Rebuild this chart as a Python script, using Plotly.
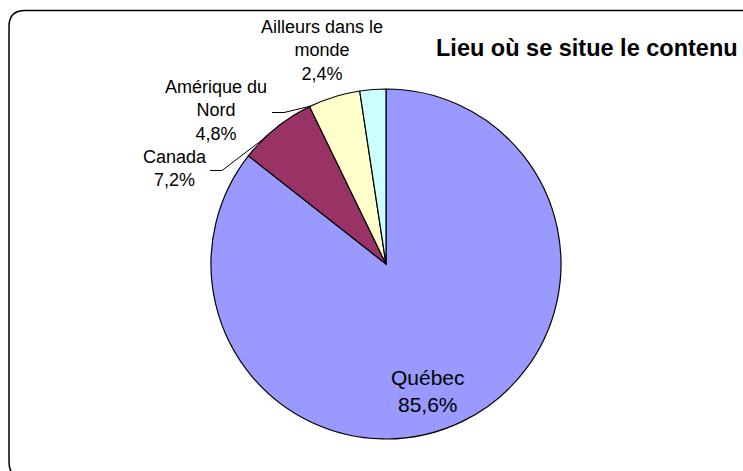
import math
import plotly.graph_objects as go

labels = ["Québec", "Canada", "Amérique du<br>Nord", "Ailleurs dans le<br>monde"]
values = [85.6, 7.2, 4.8, 2.4]
pct_text = ["85,6%", "7,2%", "4,8%", "2,4%"]
colors = ["#9999FF", "#993366", "#FFFFCC", "#CCFFFF"]
title_text = "Lieu où se situe le contenu"

W, H = 743, 471
cx, cy, R = 386, 264, 175  # pie centre / radius in window pixels
FONT = "Arial, Liberation Sans, sans-serif"

def px(x):
    return x / W

def py(y):
    return 1 - y / H

fig = go.Figure(go.Pie(
    labels=labels,
    values=values,
    sort=False,
    direction="clockwise",
    rotation=0,
    marker=dict(colors=colors, line=dict(color="black", width=1.2)),
    textinfo="none",
    domain=dict(x=[px(cx - R), px(cx + R)], y=[py(cy + R), py(cy - R)]),
    showlegend=False,
    hoverinfo="label+percent",
))

total = sum(values)
starts, cum = [], 0
for v in values:
    starts.append(cum / total * 360)
    cum += v

def arc_point(i, frac, rr=R):
    ang = math.radians(starts[i] + frac * values[i] / total * 360)
    return cx + rr * math.sin(ang), cy - rr * math.cos(ang)

# label block centres (window pixels)
label_pos = {0: (428, 391), 1: (175, 169), 2: (216, 111), 3: (322, 51)}
sizes = {0: 21, 1: 18, 2: 18, 3: 18}
annotations = []
for i, (lx, ly) in label_pos.items():
    annotations.append(dict(
        x=px(lx), y=py(ly), xref="paper", yref="paper",
        xanchor="center", yanchor="middle",
        text=labels[i] + "<br>" + pct_text[i],
        showarrow=False,
        font=dict(family=FONT, size=sizes[i], color="black"),
        align="center",
    ))

annotations.append(dict(
    x=px(740), y=py(48), xref="paper", yref="paper",
    xanchor="right", yanchor="middle",
    text="<b>" + title_text + "</b>", showarrow=False,
    font=dict(family=FONT, size=23.5, color="black"),
))

fig.update_layout(
    width=W, height=H,
    margin=dict(l=0, r=0, t=0, b=0),
    paper_bgcolor="white",
    plot_bgcolor="white",
    annotations=annotations,
)

def seg(x0, y0, x1, y1):
    fig.add_shape(type="line", xref="paper", yref="paper",
                  x0=px(x0), y0=py(y0), x1=px(x1), y1=py(y1),
                  line=dict(color="black", width=1))

# leader lines: short horizontal stub then to the slice's arc
for i, (hx, hy, frac) in {1: (210, 170.5, 0.3), 2: (272, 112.5, 0.02)}.items():
    ex, ey = arc_point(i, frac)
    seg(hx, hy, hx + 12, hy)
    seg(hx + 12, hy, ex, ey)

# rounded border (right and bottom edges run past the window)
L, T, Rr, B, r = 9, 10.5, 760, 478, 16
path = (f"M {px(L)},{py(T + r)} Q {px(L)},{py(T)} {px(L + r)},{py(T)} "
        f"L {px(Rr - r)},{py(T)} Q {px(Rr)},{py(T)} {px(Rr)},{py(T + r)} "
        f"L {px(Rr)},{py(B - r)} Q {px(Rr)},{py(B)} {px(Rr - r)},{py(B)} "
        f"L {px(L + r)},{py(B)} Q {px(L)},{py(B)} {px(L)},{py(B - r)} Z")
fig.add_shape(type="path", xref="paper", yref="paper", path=path,
              line=dict(color="black", width=1.5), layer="below")

fig.write_html(
    "out.html",
    config={"displayModeBar": False},
    post_script="document.body.style.margin='0';document.body.style.overflow='hidden';",
)
